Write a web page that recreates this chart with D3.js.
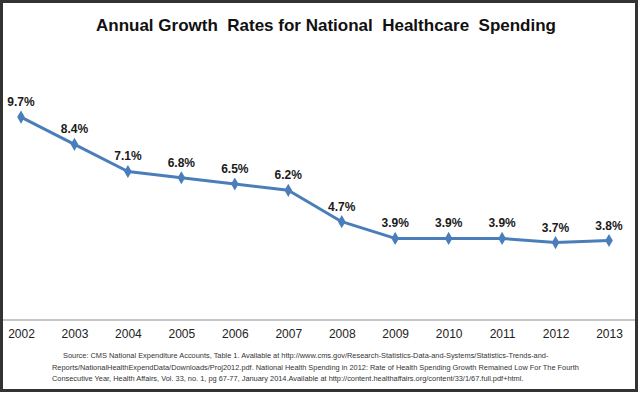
<!DOCTYPE html>
<html>
<head>
<meta charset="utf-8">
<script src="https://cdn.jsdelivr.net/npm/d3@7"></script>
<style>
    body { margin: 0; background: #fff; }
    svg { display: block; font-family: "Liberation Sans", Arial, sans-serif; }
    .title { font-size: 17px; font-weight: bold; fill: #111; }
    .x-axis text { font-size: 12px; fill: #222; }
    .val { font-size: 12px; font-weight: bold; fill: #1a1a1a; }
    .src { font-size: 7.4px; fill: #333; }
</style>
</head>
<body>
<div id="chart"></div>
<script>
const years = ['2002','2003','2004','2005','2006','2007','2008','2009','2010','2011','2012','2013']
const growth = [9.7, 8.4, 7.1, 6.8, 6.5, 6.2, 4.7, 3.9, 3.9, 3.9, 3.7, 3.8]
const titleText = 'Annual Growth  Rates for National  Healthcare  Spending'
const sourceLines = [
    'Source: CMS National Expenditure Accounts, Table 1. Available at http://www.cms.gov/Research-Statistics-Data-and-Systems/Statistics-Trends-and-',
    'Reports/NationalHealthExpendData/Downloads/Proj2012.pdf. National Health Spending in 2012: Rate of Health Spending Growth Remained Low For The Fourth',
    'Consecutive Year, Health Affairs, Vol. 33, no. 1, pg 67-77, January 2014.Available at http://content.healthaffairs.org/content/33/1/67.full.pdf+html.'
]

const W = 639, H = 396

const svg = d3.select('#chart').append('svg')
    .attr('width', W)
    .attr('height', H)

// frame
svg.append('rect')
    .attr('x', 1.5)
    .attr('y', 1.5)
    .attr('width', 635)
    .attr('height', 389)
    .attr('fill', '#fff')
    .attr('stroke', '#333')
    .attr('stroke-width', 3)

svg.append('text')
    .attr('class', 'title')
    .attr('x', 326)
    .attr('y', 31)
    .attr('text-anchor', 'middle')
    .style('white-space', 'pre')
    .text(titleText)

let x = d3.scalePoint()
    .domain(years)
    .range([21, 609])

let y = d3.scaleLinear()
    .domain([0, 12])
    .range([320, 69])

// axis line across the frame
svg.append('line')
    .attr('x1', 3)
    .attr('x2', 635)
    .attr('y1', y(0))
    .attr('y2', y(0))
    .attr('stroke', '#8c8c8c')
    .attr('stroke-width', 1.2)

const xAxis = svg.append('g')
    .attr('class', 'x-axis')
    .attr('transform', `translate(0,${y(0)})`)
    .call(d3.axisBottom(x).tickSize(0).tickPadding(9))
xAxis.select('.domain').remove()

const series = years.map((d, i) => ({year: d, v: growth[i]}))

svg.append('path')
    .datum(series)
    .attr('fill', 'none')
    .attr('stroke', '#4a7ebb')
    .attr('stroke-width', 3)
    .attr('stroke-linejoin', 'round')
    .attr('d', d3.line().x(d => x(d.year)).y(d => y(d.v)))

svg.selectAll('.pt')
    .data(series)
    .join('path')
    .attr('class', 'pt')
    .attr('transform', d => `translate(${x(d.year)},${y(d.v)})`)
    .attr('d', d3.symbol(d3.symbolDiamond, 50))
    .attr('fill', '#4a7ebb')

svg.selectAll('.val')
    .data(series)
    .join('text')
    .attr('class', 'val')
    .attr('x', d => x(d.year))
    .attr('y', d => y(d.v) - 11)
    .attr('text-anchor', 'middle')
    .text(d => d.v.toFixed(1) + '%')

svg.append('g')
    .selectAll('text')
    .data(sourceLines)
    .join('text')
    .attr('class', 'src')
    .attr('x', (d, i) => i === 0 ? 63 : 52)
    .attr('y', (d, i) => 358 + i * 11.5)
    .text(d => d)
</script>
</body>
</html>
